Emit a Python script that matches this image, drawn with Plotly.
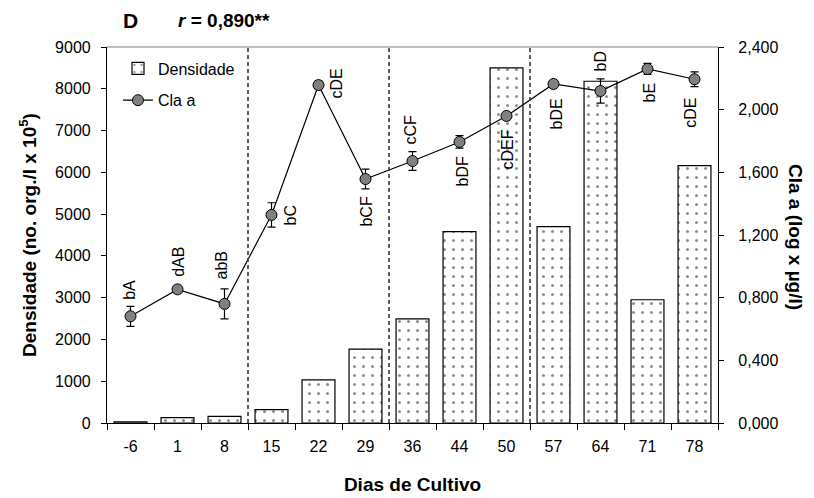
import plotly.graph_objects as go

# ---------------- data ----------------
days = ["-6", "1", "8", "15", "22", "29", "36", "44", "50", "57", "64", "71", "78"]
densidade = [30, 130, 160, 320, 1030, 1770, 2490, 4580, 8500, 4700, 8180, 2950, 6160]
cla_a = [0.681, 0.853, 0.760, 1.328, 2.157, 1.557, 1.672, 1.794, 1.960, 2.164, 2.119, 2.260, 2.194]
cla_err = [0.064, 0.02, 0.096, 0.078, 0.025, 0.063, 0.06, 0.04, 0.012, 0.012, 0.077, 0.035, 0.047]
labels = ["bA", "dAB", "abB", "bC", "cDE", "bCF", "cCF", "bDF", "cDEF", "bDE", "bD", "bE", "cDE"]
phase_ends = ["8", "29", "50"]  # last day of each culture phase (dashed separators)

y_ticks = [0, 1000, 2000, 3000, 4000, 5000, 6000, 7000, 8000, 9000]
y2_ticks = [0.0, 0.4, 0.8, 1.2, 1.6, 2.0, 2.4]

# label placement (pixel offsets from each Cla a point: dx right, dy down)
label_offsets = [(-1, -26), (1, -27), (-3, -38), (19, 1), (18, -1), (1, 33), (-2, -31),
                 (3, 30), (1, 34), (3, 30), (0, -29), (2, 24), (-4, 34)]

FONT = "Liberation Sans, Arial, sans-serif"

fig = go.Figure()

fig.add_trace(go.Bar(
    x=days, y=densidade, name="Densidade", width=0.7,
    marker=dict(color="white", line=dict(color="black", width=1.2),
                pattern=dict(shape=".", fgcolor="#222222", bgcolor="white",
                             size=9, solidity=0.09, fillmode="overlay")),
    yaxis="y", legendgroup="a",
))

fig.add_trace(go.Scatter(
    x=days, y=cla_a, name="Cla a", mode="lines+markers", yaxis="y2",
    line=dict(color="black", width=1.2),
    marker=dict(color="#808080", size=11, line=dict(color="black", width=1)),
    error_y=dict(type="data", array=cla_err, color="black", thickness=1.2, width=4),
    legendgroup="b",
))

annotations = []
for i, (v, t, (dx, dy)) in enumerate(zip(cla_a, labels, label_offsets)):
    annotations.append(dict(x=i, y=v, xref="x", yref="y2", text=t, showarrow=False,
                            textangle=-90, xanchor="center", yanchor="middle",
                            xshift=dx, yshift=-dy,
                            font=dict(family=FONT, size=16, color="black")))

# title texts
annotations.append(dict(xref="paper", yref="paper", x=0, y=1, xshift=23, yshift=27,
                        text="<b>D</b>", showarrow=False, xanchor="center", yanchor="middle",
                        font=dict(family=FONT, size=21, color="black")))
annotations.append(dict(xref="paper", yref="paper", x=0, y=1, xshift=69, yshift=27,
                        text="<b><i>r</i> = 0,890**</b>", showarrow=False, xanchor="left",
                        yanchor="middle", font=dict(family=FONT, size=19, color="black")))
# right axis title (reads top to bottom)
annotations.append(dict(xref="paper", yref="paper", x=1, y=0.5, xshift=78, yshift=-2,
                        text="<b>Cla a (log x µg/l)</b>", showarrow=False, textangle=90,
                        xanchor="center", yanchor="middle",
                        font=dict(family=FONT, size=19, color="black")))

shapes = []
for p in phase_ends:
    xb = days.index(p) + 0.5
    shapes.append(dict(type="line", xref="x", yref="paper", x0=xb, x1=xb, y0=0, y1=1,
                       line=dict(color="#383838", width=1.6, dash="4px,3px")))
shapes.append(dict(type="line", xref="paper", yref="paper", x0=0, x1=1, y0=1, y1=1,
                   line=dict(color="#808080", width=1.2)))

fig.update_layout(
    width=806, height=490,
    margin=dict(l=99, r=96, t=39, b=75, autoexpand=False),
    paper_bgcolor="white", plot_bgcolor="white",
    font=dict(family=FONT, size=16, color="black"),
    separators=",.",
    showlegend=True,
    legend=dict(x=0.018, y=0.988, xanchor="left", yanchor="top", bgcolor="rgba(0,0,0,0)",
                font=dict(family=FONT, size=16, color="black"), traceorder="grouped",
                tracegroupgap=8, itemwidth=30),
    bargap=0.3,
    xaxis=dict(type="category", range=[-0.5, len(days) - 0.5], tickson="boundaries",
               ticks="outside", ticklen=6, tickwidth=1, tickcolor="black",
               showline=True, linecolor="black", linewidth=1.2, showgrid=False,
               ticklabelstandoff=9,
               title=dict(text="<b>Dias de Cultivo</b>", standoff=23,
                          font=dict(family=FONT, size=19, color="black"))),
    yaxis=dict(range=[0, 9000], tickvals=y_ticks, ticks="outside", ticklen=5,
               tickcolor="black", showline=True, linecolor="black", linewidth=1.2,
               showgrid=False, zeroline=False, ticklabelstandoff=7,
               title=dict(text="<b>Densidade (no. org./l x 10<sup>5</sup>)</b>", standoff=13,
                          font=dict(family=FONT, size=19, color="black"))),
    yaxis2=dict(range=[0, 2.4], tickvals=y2_ticks, tickformat=".3f", overlaying="y",
                side="right", ticks="outside", ticklen=5, tickcolor="black",
                showline=True, linecolor="black", linewidth=1.2, showgrid=False,
                zeroline=False, ticklabelstandoff=11),
    annotations=annotations,
    shapes=shapes,
)

fig.write_html("out.html")
